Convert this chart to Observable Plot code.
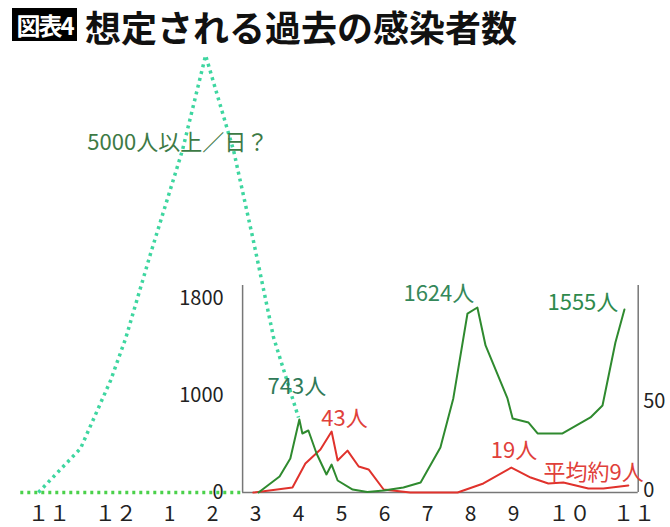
<!DOCTYPE html>
<html><head><meta charset="utf-8">
<script src="https://cdn.jsdelivr.net/npm/d3@7"></script>
<script src="https://cdn.jsdelivr.net/npm/@observablehq/plot@0.6"></script>
<style>
body{margin:0;background:#fff;font-family:'Noto Sans CJK JP',sans-serif;}
#head{position:relative;height:46px;width:670px;}
#badge{position:absolute;left:12px;top:8px;width:65px;height:33px;background:#000;color:#fff;font-weight:700;font-size:24px;line-height:33px;text-align:center;letter-spacing:-2px;}
#title{position:absolute;left:85px;top:0px;font-size:36px;font-weight:700;line-height:normal;color:#111;white-space:nowrap;}
#chart{position:relative;}
</style></head>
<body>
<div id="head"><div id="badge">図表4</div><div id="title">想定される過去の感染者数</div></div>
<div id="chart"></div>
<script>
// month position (Mar = 3; Nov/Dec of the previous year = -1/0) and daily values
const greenT = [3.07,3.56,3.81,4.02,4.09,4.23,4.42,4.65,4.77,4.91,5.26,5.60,5.98,6.44,6.84,7.30,7.60,7.93,8.16,8.35,8.86,8.98,9.35,9.56,10.14,10.79,11.07,11.37,11.58];
const greenV = [0,217,411,786,656,684,462,240,348,170,52,10,37,81,146,521,974,1681,1729,1423,974,795,758,656,656,804,912,1447,1713];
const redT = [2.95,3.86,4.16,4.51,4.77,4.91,5.14,5.40,5.63,5.98,6.60,7.70,8.30,8.95,9.40,9.81,10.16,10.74,11.09,11.67];
const redV = [0,4.4,19.3,27.0,36.3,21.0,26.4,17.6,15.9,2.8,0,0,7.2,17.0,11.0,7.2,7.8,3.6,3.6,5.8];
const cyanT = [-2.05,-1.07,-0.37,-0.02,0.56,1.30,1.84,2.49,2.95,3.42,4.0];
const cyanV = [0,511,1130,1480,2148,2912,3585,2912,2247,1488,804];
const baseT = [-2.47,2.65];
const baseV = [0,0];
const monthLabels = ["１１","１２","1","2","3","4","5","6","7","8","9","１０","１１"];
const monthPos = [-1.8,-0.25,1,2,3,4,5,6,7,8,9,10.3,11.8];
const leftTicks = [0,1000,1800];
const rightTicks = [0,50];
const frameLeft = 2.7, frameRight = 11.9, frameTop = 1902;
const redPerUnit = 18.59; // left-axis units per death on the right axis
const annText = ["5000人以上／日？","743人","43人","1624人","1555人","19人","平均約9人"];
const annT = [-0.91,3.28,4.53,6.44,9.79,8.47,9.70];
const annV = [2969,1078,795,1839,1761,492,262];
const annColor = ["#3d7a45","#2f7a58","#e0403a","#35885a","#2e8a4c","#e0403a","#e0403a"];

const green = greenT.map((t,i)=>({t, v: greenV[i]}));
const red = redT.map((t,i)=>({t, v: redV[i]*redPerUnit}));
const cyan = cyanT.map((t,i)=>({t, v: cyanV[i]}));
const base = baseT.map((t,i)=>({t, v: baseV[i]}));
const months = monthLabels.map((l,i)=>({l, t: monthPos[i]}));
const ann = annText.map((s,i)=>({s, t: annT[i], v: annV[i], c: annColor[i]}));

const font = "'Noto Sans CJK JP', sans-serif";
const chart = Plot.plot({
  width: 670, height: 481,
  marginTop: 0, marginBottom: 0, marginLeft: 0, marginRight: 0,
  style: {fontFamily: font, background: "transparent", overflow: "visible"},
  x: {domain: [-2, 12], range: [40, 642], axis: null},
  y: {type: "pow", exponent: 1.179, domain: [0, 1800], range: [446, 252], axis: null},
  marks: [
    Plot.line(base, {x: "t", y: "v", stroke: "#4bd14b", strokeWidth: 3.5, strokeDasharray: "3,4", strokeLinecap: "butt"}),
    Plot.line(cyan, {x: "t", y: "v", stroke: "#3ed6a0", strokeWidth: 3.5, strokeDasharray: "3,4", strokeLinecap: "butt"}),
    Plot.ruleX([frameLeft, frameRight], {x: d=>d, y1: 0, y2: frameTop, stroke: "#777", strokeWidth: 1.5}),
    Plot.ruleY([0], {y: d=>d, x1: frameLeft, x2: frameRight, stroke: "#777", strokeWidth: 1.5}),
    Plot.line(red, {x: "t", y: "v", stroke: "#e0322c", strokeWidth: 2}),
    Plot.line(green, {x: "t", y: "v", stroke: "#2f8a2f", strokeWidth: 2}),
    Plot.text(leftTicks, {x: frameLeft, y: d=>d, text: d=>String(d), dx: -19, textAnchor: "end", fontSize: 20, fill: "#222"}),
    Plot.text(rightTicks, {x: frameRight, y: d=>d*redPerUnit, text: d=>String(d), dx: 5, dy: -2, textAnchor: "start", fontSize: 20, fill: "#222"}),
    Plot.text(months, {x: "t", y: 0, text: "l", dy: 22, fontSize: 21, fill: "#222"}),
    Plot.text(ann, {x: "t", y: "v", text: "s", fill: "c", textAnchor: "start", fontSize: 22})
  ]
});
document.getElementById("chart").appendChild(chart);
</script>
</body></html>
